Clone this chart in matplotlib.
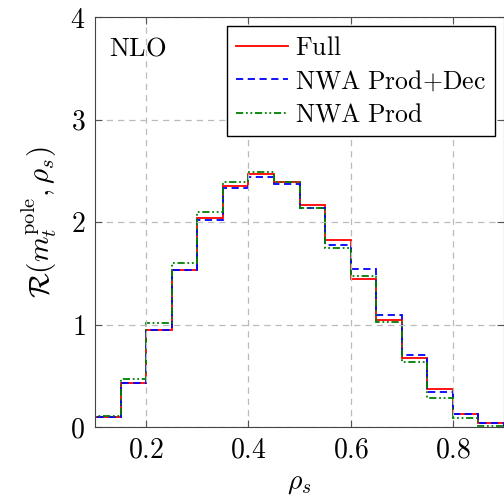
import numpy as np
import matplotlib.pyplot as plt
from matplotlib.ticker import FuncFormatter

plt.rcParams['mathtext.fontset'] = 'cm'
plt.rcParams['font.family'] = 'serif'
plt.rcParams['font.serif'] = ['DejaVu Serif']

# bin edges in rho_s
edges = [0.10, 0.15, 0.20, 0.25, 0.30, 0.35, 0.40, 0.45, 0.50,
         0.55, 0.60, 0.65, 0.70, 0.75, 0.80, 0.85, 0.90]

full = [0.10, 0.43, 0.95, 1.53, 2.04, 2.35, 2.47, 2.39,
        2.17, 1.82, 1.44, 1.04, 0.67, 0.37, 0.13, 0.036]
nwa_prod_dec = [0.10, 0.43, 0.95, 1.53, 2.02, 2.33, 2.44, 2.37,
                2.14, 1.78, 1.54, 1.09, 0.70, 0.34, 0.13, 0.036]
nwa_prod = [0.11, 0.47, 1.01, 1.60, 2.10, 2.39, 2.49, 2.39,
            2.14, 1.75, 1.47, 1.02, 0.63, 0.28, 0.085, 0.01]

fig = plt.figure(figsize=(5.04, 5.0), dpi=100)
ax = fig.add_axes([0.1885, 0.146, 0.8115, 0.82])

ax.stairs(full, edges, color='red', lw=1.3, label=r'$\mathrm{Full}$')
ax.stairs(nwa_prod_dec, edges, color='blue', lw=1.3, linestyle=(0, (4, 2.5)),
          label=r'$\mathrm{NWA\ Prod{+}Dec}$')
ax.stairs(nwa_prod, edges, color=(0, 0.5, 0), lw=1.3,
          linestyle=(0, (4, 1.5, 1, 1.5, 1, 1.5)), label=r'$\mathrm{NWA\ Prod}$')

ax.set_xlim(0.1, 0.9)
ax.set_ylim(0, 4)
ax.set_xticks([0.2, 0.4, 0.6, 0.8])
ax.set_yticks([0, 1, 2, 3, 4])
ax.xaxis.set_major_formatter(FuncFormatter(lambda v, p: r'$%.1f$' % v))
ax.yaxis.set_major_formatter(FuncFormatter(lambda v, p: r'$%d$' % v))
ax.tick_params(direction='in', top=True, right=True, length=5, labelsize=20,
               color='#555555', pad=7)
ax.grid(True, color='#bbbbbb', linestyle=(0, (5, 4)), lw=0.9)
for s in ax.spines.values():
    s.set_color('#444444')

ax.set_xlabel(r'$\rho_s$', fontsize=20, labelpad=4)
ax.set_ylabel(r'$\mathcal{R}(m_t^{\mathrm{pole}}, \rho_s)$', fontsize=21, labelpad=8)

ax.text(0.128, 3.70, r'$\mathrm{NLO}$', fontsize=19, va='center')

leg = ax.legend(loc='upper right', fontsize=18.5, frameon=True, fancybox=False,
                edgecolor='black', handlelength=2.0, handletextpad=0.3,
                borderpad=0.35, labelspacing=0.33, borderaxespad=0.35)
leg.get_frame().set_linewidth(1.0)
leg.get_frame().set_alpha(1.0)

fig.savefig('out.png', dpi=100)
